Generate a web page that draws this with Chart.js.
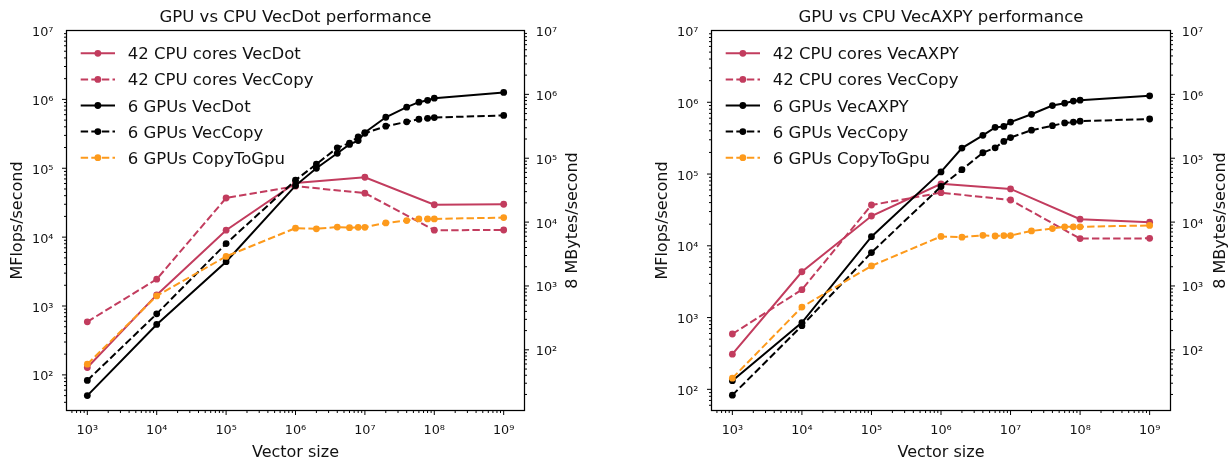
<!DOCTYPE html>
<html><head><meta charset="utf-8">
<script src="https://cdn.jsdelivr.net/npm/chart.js@4.4.1/dist/chart.umd.min.js"></script>
<style>
html,body{margin:0;padding:0;background:#fff;}
#wrap{position:relative;width:1232px;height:464px;overflow:hidden;background:#fff;}
.c{position:absolute;top:0;width:616px;height:464px;}
</style></head><body>
<div id="wrap">
<div class="c" style="left:0"><canvas id="c1" width="616" height="464"></canvas></div>
<div class="c" style="left:616px"><canvas id="c2" width="616" height="464"></canvas></div>
</div>
<script>
// ---------- data ----------
const sizesCpu = [1e3, 1e4, 1e5, 1e6, 1e7, 1e8, 1e9];
const sizesGpu = [1e3, 1e4, 1e5, 1e6, 2e6, 4e6, 6e6, 8e6, 1e7, 2e7, 4e7, 6e7, 8e7, 1e8, 1e9];

const cpuVecDot  = [128, 1450, 12600, 61000, 74000, 29500, 30000];
const cpuVecAXPY = [309, 4350, 26000, 73000, 62000, 23500, 21300];
const cpuVecCopy = [590, 2450, 37000, 55000, 43500, 12600, 12700];

const gpuVecDot  = [50, 540, 4400, 56000, 100000, 165000, 222000, 252000, 330000, 550000, 770000, 910000, 970000, 1040000, 1260000];
const gpuVecAXPY = [132, 850, 13400, 107000, 230000, 346000, 447000, 460000, 530000, 680000, 900000, 970000, 1040000, 1070000, 1230000];
const gpuVecCopy = [83, 770, 8050, 67000, 115000, 198000, 232000, 285000, 322000, 408000, 472000, 515000, 530000, 545000, 585000];
const gpuCopyToGpu = [143, 1400, 5250, 13500, 13200, 14000, 13700, 13900, 13900, 16100, 17400, 18400, 18400, 18400, 19200];

const xTickValues  = [1e3, 1e4, 1e5, 1e6, 1e7, 1e8, 1e9];
const yTickValues  = [1e2, 1e3, 1e4, 1e5, 1e6, 1e7];
const y2TickValues = [1e2, 1e3, 1e4, 1e5, 1e6, 1e7];

const titles = ['GPU vs CPU VecDot performance', 'GPU vs CPU VecAXPY performance'];
const xLabel = 'Vector size';
const yLabel = 'MFlops/second';
const y2Label = '8 MBytes/second';

// ---------- styling ----------
const CRIMSON = '#c23c5e';
const ORANGE = '#fd9a1c';
const BLACK = '#000000';
const TEXT = '#111111';
const FONT = '"DejaVu Sans", Verdana, sans-serif';
const DASH = [7.4, 3.2];

const SUP = {'0':'⁰','1':'¹','2':'²','3':'³','4':'⁴','5':'⁵','6':'⁶','7':'⁷','8':'⁸','9':'⁹','-':'⁻'};
function sciLabel(v){
  const e = Math.round(Math.log10(v));
  return '10' + String(e).split('').map(c => SUP[c]).join('');
}
function pts(xs, ys){ return xs.map((x,i)=>({x:x, y:ys[i]})); }

function makeDatasets(cpuLabel, cpuData, gpuLabel, gpuData){
  const defs = [
    {label:'42 CPU cores ' + cpuLabel, xs:sizesCpu, ys:cpuData, color:CRIMSON, dash:[]},
    {label:'42 CPU cores VecCopy', xs:sizesCpu, ys:cpuVecCopy, color:CRIMSON, dash:DASH},
    {label:'6 GPUs ' + gpuLabel, xs:sizesGpu, ys:gpuData, color:BLACK, dash:[]},
    {label:'6 GPUs VecCopy', xs:sizesGpu, ys:gpuVecCopy, color:BLACK, dash:DASH},
    {label:'6 GPUs CopyToGpu', xs:sizesGpu, ys:gpuCopyToGpu, color:ORANGE, dash:DASH},
  ];
  return defs.map((d,i)=>({
    label:d.label, data:pts(d.xs,d.ys), borderColor:d.color, backgroundColor:d.color,
    borderWidth:2, borderDash:d.dash, pointRadius:3.4, pointBorderWidth:0,
    pointBackgroundColor:d.color, pointHoverRadius:3.4, tension:0, fill:false,
    order: 5 - i, yAxisID:'y'
  }));
}

// plugin: frame, ticks, title, right label, legend
const decor = {
  id:'decor',
  afterDatasetsDraw(chart){
    const {ctx, chartArea:a} = chart;
    const cfg = chart.options.plugins.decor;
    ctx.save();
    // ticks
    ctx.strokeStyle = '#000'; ctx.lineWidth = 1;
    const drawT = (scale, side) => {
      const lo = Math.floor(Math.log10(scale.min)), hi = Math.ceil(Math.log10(scale.max));
      for (let e = lo; e <= hi; e++) for (let k = 1; k <= 9; k++){
        const v = k * Math.pow(10, e);
        if (v < scale.min*1.0001 || v > scale.max*0.9999) continue;
        const p = scale.getPixelForValue(v);
        const len = k === 1 ? 4.5 : 2.5;
        ctx.beginPath();
        if (side === 'bottom'){ ctx.moveTo(p, a.bottom); ctx.lineTo(p, a.bottom + len); }
        else if (side === 'left'){ ctx.moveTo(a.left, p); ctx.lineTo(a.left - len, p); }
        else { ctx.moveTo(a.right, p); ctx.lineTo(a.right + len, p); }
        ctx.stroke();
      }
    };
    drawT(chart.scales.x, 'bottom');
    drawT(chart.scales.y, 'left');
    drawT(chart.scales.y2, 'right');
    // frame
    ctx.lineWidth = 1.25;
    ctx.strokeRect(a.left, a.top, a.right - a.left, a.bottom - a.top);
    ctx.restore();
  },
  afterDraw(chart){
    const {ctx, chartArea:a} = chart;
    const cfg = chart.options.plugins.decor;
    ctx.save();
    ctx.fillStyle = TEXT;
    // title
    ctx.font = '16.5px ' + FONT;
    ctx.textAlign = 'center'; ctx.textBaseline = 'alphabetic';
    ctx.fillText(cfg.title, (a.left + a.right)/2, 21.8);
    // right axis label (reads bottom-to-top)
    ctx.font = '16px ' + FONT;
    const cx = a.right + cfg.rightLabelOffset;
    ctx.translate(cx + 0.364*16, (a.top + a.bottom)/2);
    ctx.rotate(-Math.PI/2);
    ctx.fillText(y2Label, 0, 0);
    ctx.restore();
    // legend
    ctx.save();
    const fs = 16.5;
    ctx.font = fs + 'px ' + FONT;
    const x0 = a.left + 14.2, x1 = a.left + 48.5;
    chart.data.datasets.forEach((ds, i) => {
      const yy = 53.3 + i * 26.1;
      ctx.strokeStyle = ds.borderColor; ctx.lineWidth = 2;
      ctx.setLineDash(ds.borderDash || []);
      ctx.beginPath(); ctx.moveTo(x0, yy); ctx.lineTo(x1, yy); ctx.stroke();
      ctx.setLineDash([]);
      ctx.fillStyle = ds.borderColor;
      ctx.beginPath(); ctx.arc((x0+x1)/2, yy, 3.4, 0, Math.PI*2); ctx.fill();
      ctx.fillStyle = TEXT; ctx.textAlign = 'left'; ctx.textBaseline = 'alphabetic';
      ctx.fillText(ds.label, a.left + 61.2, yy + 0.364*fs);
    });
    ctx.restore();
  }
};

function makeChart(id, title, datasets, geom){
  const tickFont = {family: FONT, size: 12.8};
  return new Chart(document.getElementById(id), {
    type:'line',
    data:{datasets:datasets},
    plugins:[decor],
    options:{
      responsive:false, animation:false, devicePixelRatio:1,
      layout:{padding:{top:30.5, left:0, right:0, bottom:0}},
      plugins:{legend:{display:false}, tooltip:{enabled:false},
        decor:{title:title, rightLabelOffset:geom.rightLabelOffset}},
      scales:{
        x:{type:'logarithmic', position:'bottom', min:Math.pow(10,2.7), max:Math.pow(10,9.3),
          grid:{display:false, drawTicks:false}, border:{display:false},
          afterBuildTicks:(s)=>{ s.ticks = xTickValues.map(v=>({value:v})); },
          afterFit:(s)=>{ s.height = 464 - 410.5; },
          ticks:{font:tickFont, color:TEXT, padding:12, maxRotation:0, autoSkip:false, callback:(v)=>sciLabel(v)},
          title:{display:true, text:xLabel, color:TEXT, font:{family:FONT, size:16}, padding:{top:0, bottom:1.8}}
        },
        y:{type:'logarithmic', position:'left', min:geom.yMin, max:1e7,
          grid:{display:false, drawTicks:false}, border:{display:false},
          afterBuildTicks:(s)=>{ s.ticks = yTickValues.map(v=>({value:v})); },
          afterFit:(s)=>{ s.width = geom.left; },
          ticks:{font:tickFont, color:TEXT, padding:13, labelOffset:2.2, autoSkip:false, callback:(v)=>sciLabel(v)},
          title:{display:true, text:yLabel, color:TEXT, font:{family:FONT, size:16}, padding:{top:geom.yTitlePad, bottom:0}}
        },
        y2:{type:'logarithmic', position:'right', min:Math.pow(10,1.05), max:1e7,
          grid:{display:false, drawTicks:false}, border:{display:false},
          afterBuildTicks:(s)=>{ s.ticks = y2TickValues.map(v=>({value:v})); },
          afterFit:(s)=>{ s.width = 616 - geom.right; },
          ticks:{font:tickFont, color:TEXT, padding:11.3, labelOffset:2.2, autoSkip:false, callback:(v)=>sciLabel(v)}
        }
      }
    }
  });
}

makeChart('c1', titles[0], makeDatasets('VecDot', cpuVecDot, 'VecDot', gpuVecDot),
  {left:66.5, right:524.5, yMin:Math.pow(10,1.483), yTitlePad:8, rightLabelOffset:46.7});
makeChart('c2', titles[1], makeDatasets('VecAXPY', cpuVecAXPY, 'VecAXPY', gpuVecAXPY),
  {left:95.5, right:554.5, yMin:Math.pow(10,1.705), yTitlePad:37.5, rightLabelOffset:48.8});
</script>
</body></html>
